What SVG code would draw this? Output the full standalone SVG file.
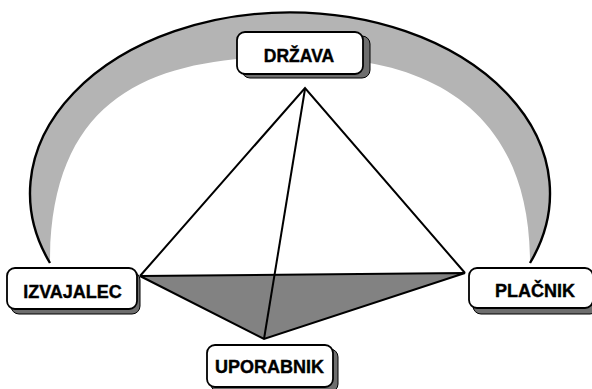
<svg xmlns="http://www.w3.org/2000/svg" width="592" height="389" viewBox="0 0 592 389">
<defs>
<style>
.box{fill:#ffffff;stroke:#000;stroke-width:1.8}
.shadow{fill:#6e6e6e;stroke:#000;stroke-width:1}
.lbl{font-family:"Liberation Sans",Arial,sans-serif;font-weight:bold;font-size:18px;fill:#000;stroke:#000;stroke-width:0.4;text-anchor:middle}
.edge{fill:none;stroke:#000;stroke-width:2;stroke-linejoin:miter}
</style>
</defs>
<rect width="592" height="389" fill="#ffffff"/>
<g id="band">
<path d="M 50 263 A 260 181 0 1 1 530 263 C 530 110 430 57 300 57 C 160 55 50 90 50 263 Z" fill="#b4b4b4" stroke="none"/>
<path d="M 50 263 A 260 181 0 1 1 530 263" fill="none" stroke="#000" stroke-width="2.4"/>
</g>
<g id="connectors">
<polygon points="140,276 465,273 264,339" fill="#828282" stroke="#000" stroke-width="2" stroke-linejoin="miter"/>
<polyline class="edge" points="140,276 305,88 465,273"/>
<line class="edge" x1="305" y1="89" x2="264" y2="339"/>
</g>
<g id="drzava">
<rect class="shadow" x="242" y="36" width="128" height="42" rx="8"/>
<rect class="box" x="237" y="32" width="126" height="42" rx="8"/>
<text class="lbl" x="299" y="62" style="font-size:17.5px">DRŽAVA</text>
</g>
<g id="izvajalec">
<rect class="shadow" x="11" y="272" width="129" height="42" rx="8"/>
<rect class="box" x="7" y="268" width="130" height="41" rx="8"/>
<text class="lbl" x="72.5" y="298">IZVAJALEC</text>
</g>
<g id="placnik">
<rect class="shadow" x="473" y="273" width="125" height="41" rx="8"/>
<rect class="box" x="469" y="268" width="124" height="40" rx="8"/>
<text class="lbl" x="535" y="297">PLAČNIK</text>
</g>
<g id="uporabnik">
<rect class="shadow" x="211" y="349" width="127" height="43" rx="8"/>
<rect class="box" x="207" y="345" width="126" height="42" rx="8"/>
<text class="lbl" x="269.5" y="373">UPORABNIK</text>
</g>
</svg>
